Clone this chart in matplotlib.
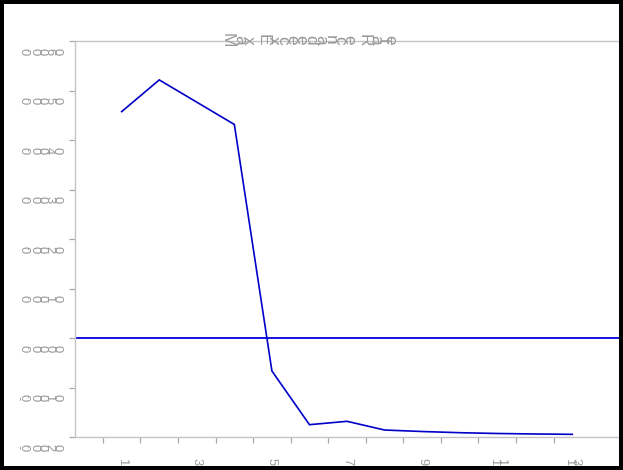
import matplotlib
matplotlib.use("Agg")
import matplotlib.pyplot as plt
from matplotlib.transforms import ScaledTranslation, blended_transform_factory
from matplotlib.font_manager import FontProperties, findfont, get_font
from matplotlib.patches import Rectangle

try:
    from matplotlib.ft2font import LoadFlags
    NOHINT = LoadFlags.NO_HINTING
except Exception:
    from matplotlib.ft2font import LOAD_NO_HINTING as NOHINT

# ---- data ----
title = "Max Exceedance Rate"
x_values = [1, 2, 3, 4, 5, 6, 7, 8, 9, 10, 11, 12, 13]
rate = [0.00458, 0.00522, 0.00477, 0.00432, -0.00066, -0.001745, -0.001677,
        -0.001853, -0.001883, -0.001907, -0.001923, -0.001933, -0.00194]
reference_level = 0.0
y_ticks = [-0.002, -0.001, 0.0, 0.001, 0.002, 0.003, 0.004, 0.005, 0.006]
y_tick_labels = ["-0.0020", "-0.0010", "0.0000", "0.0010", "0.0020",
                 "0.0030", "0.0040", "0.0050", "0.0060"]
x_tick_bounds = [0.5, 1.5, 2.5, 3.5, 4.5, 5.5, 6.5, 7.5, 8.5, 9.5, 10.5, 11.5, 12.5]
x_label_pos = [1, 3, 5, 7, 9, 11, 13]
x_tick_labels = ["1", "3", "5", "7", "9", "11", "13"]

FAMILY = "Liberation Sans"
TEXT_COLOR = "#9a9a9a"
AXIS_COLOR = "#c4c4c4"
LINE_COLOR = "#0000c8"

W_PX, H_PX, DPI = 623, 470, 100
fig = plt.figure(figsize=(W_PX / DPI, H_PX / DPI), dpi=DPI)
fig.patch.set_facecolor("white")

left, right, top, bottom = 75.3, 619.5, 41.3, 437.3
ax = fig.add_axes([left / W_PX, 1 - bottom / H_PX, (right - left) / W_PX, (bottom - top) / H_PX])
ax.plot(x_values, rate, color=LINE_COLOR, lw=1.2, solid_joinstyle="miter")
ax.axhline(reference_level, color="#0000dd", lw=1.3)
ax.set_xlim(-0.236, 14.257)
ax.set_ylim(y_ticks[0], y_ticks[-1])
ax.set_yticks(y_ticks)
ax.set_yticklabels([""] * len(y_ticks))
ax.set_xticks(x_tick_bounds)
ax.set_xticklabels([""] * len(x_tick_bounds))
ax.tick_params(length=4.5, width=0.9, color="#a8a8a8", direction="out")
for s in ax.spines.values():
    s.set_color(AXIS_COLOR)
    s.set_linewidth(1.0)

prop_cache = {}


def advances(text, size):
    prop = FontProperties(family=FAMILY, size=size)
    font = get_font(findfont(prop))
    font.set_size(size, 72)
    out = []
    for c in text:
        g = font.load_char(ord(c), flags=NOHINT)
        out.append(g.linearHoriAdvance / 65536.0)
    return out


def sideways(x, y, text, base_transform, size, ha="center", dy_pt=0.0, dx_pt=0.0):
    adv = advances(text, size)
    total = sum(adv)
    start = {"left": 0.0, "center": -total / 2, "right": -total}[ha]
    cum = start
    for c, a in zip(text, adv):
        cx = cum + a / 2 + dx_pt
        if c != " ":
            tr = base_transform + ScaledTranslation(cx / 72, dy_pt / 72, fig.dpi_scale_trans)
            fig.text(x, y, c, transform=tr, rotation=-90, rotation_mode="anchor",
                     ha="center", va="center", fontsize=size, color=TEXT_COLOR,
                     family=FAMILY)
        cum += a


# y tick labels (glyphs drawn sideways, as in the reference)
ytr = blended_transform_factory(ax.transAxes, ax.transData)
for v, lab in zip(y_ticks, y_tick_labels):
    sideways(0, v, lab, ytr, 9.4, ha="right", dx_pt=-11.0, dy_pt=-7.2)

# x tick labels
xtr = blended_transform_factory(ax.transData, ax.transAxes)
for v, lab in zip(x_label_pos, x_tick_labels):
    sideways(v, 0, lab, xtr, 9.4, ha="center", dy_pt=-17.3)

# title
sideways(307.5 / W_PX, 1 - 40.0 / H_PX, title, fig.transFigure, 12.5, ha="center")

# black frame around the picture
fig.add_artist(Rectangle((0, 0), 1, 1, transform=fig.transFigure, fill=False,
                         ec="black", lw=8 * 72 / DPI))

fig.savefig("out.png", dpi=DPI)
